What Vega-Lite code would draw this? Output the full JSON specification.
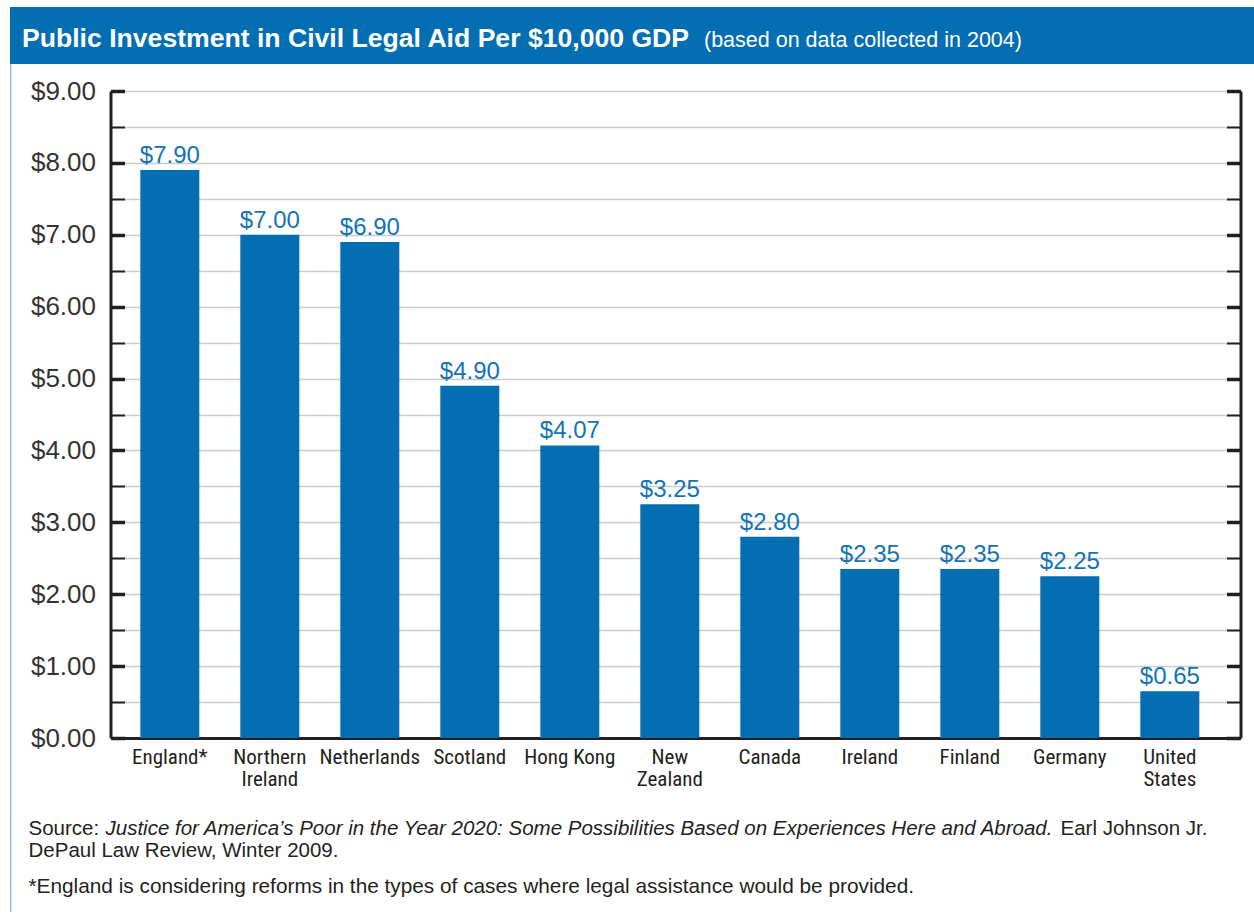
{
  "$schema": "https://vega.github.io/schema/vega-lite/v6.json",
  "background": "white",
  "padding": {"left": 10, "top": 7, "right": 0, "bottom": 0},
  "config": {"view": {"stroke": null}, "font": "Liberation Sans"},
  "spacing": 0,
  "vconcat": [
    {
      "spacing": -1,
      "hconcat": [
        {
          "width": 692,
          "height": 57,
          "data": {"values": [{"band": "header"}]},
          "mark": {"type": "rect", "color": "#036eb2"},
          "title": {"text": "Public Investment in Civil Legal Aid Per $10,000 GDP", "anchor": "start", "frame": "group", "orient": "top", "offset": -45.5, "dx": 12, "color": "#ffffff", "fontSize": 26.6, "fontWeight": "bold", "font": "Liberation Sans"}
        },
        {
          "width": 554,
          "height": 57,
          "data": {"values": [{"band": "header"}]},
          "mark": {"type": "rect", "color": "#036eb2"},
          "title": {"text": "(based on data collected in 2004)", "anchor": "start", "frame": "group", "orient": "top", "offset": -44, "dx": 2, "color": "#ffffff", "fontSize": 21.5, "fontWeight": "normal", "font": "Liberation Sans"}
        }
      ]
    },
    {
      "spacing": -13,
      "vconcat": [
        {
          "width": 1.5,
          "height": 27,
          "data": {"values": [{"frame": "left border"}]},
          "mark": {"type": "rect", "color": "#9ec4e4"}
        },
        {
          "spacing": 0,
          "vconcat": [
            {
              "spacing": 17.5,
              "hconcat": [
                {
                  "width": 1.5,
                  "height": 727,
                  "data": {"values": [{"frame": "left border"}]},
                  "mark": {"type": "rect", "color": "#9ec4e4"}
                },
                {
                  "width": 1130,
                  "height": 647,
                  "data": {
                    "values": [
                      {"country": "England*", "value": 7.90},
                      {"country": "Northern|Ireland", "value": 7.00},
                      {"country": "Netherlands", "value": 6.90},
                      {"country": "Scotland", "value": 4.90},
                      {"country": "Hong Kong", "value": 4.07},
                      {"country": "New|Zealand", "value": 3.25},
                      {"country": "Canada", "value": 2.80},
                      {"country": "Ireland", "value": 2.35},
                      {"country": "Finland", "value": 2.35},
                      {"country": "Germany", "value": 2.25},
                      {"country": "United|States", "value": 0.65}
                    ]
                  },
                  "layer": [
                    {
                      "mark": {"type": "bar", "color": "#036eb2"},
                      "encoding": {
                        "x": {
                          "field": "country", "type": "nominal", "sort": null,
                          "scale": {"paddingInner": 0.41, "paddingOuter": 0.355, "align": 0.42},
                          "axis": {"title": null, "labelAngle": 0, "labelExpr": "split(datum.label, '|')", "ticks": false, "domain": true, "domainColor": "#231f20", "domainWidth": 3, "labelFont": "Noto Sans Condensed, Roboto Condensed, Open Sans Condensed, DejaVu Sans Condensed, Liberation Sans Narrow, Liberation Sans", "labelFontSize": 21, "labelColor": "#231f20", "labelPadding": 8, "labelLineHeight": 22, "labelBaseline": "top"}
                        },
                        "y": {
                          "field": "value", "type": "quantitative",
                          "scale": {"domain": [0, 9], "nice": false},
                          "axis": {"title": null, "orient": "left", "values": [0, 0.5, 1, 1.5, 2, 2.5, 3, 3.5, 4, 4.5, 5, 5.5, 6, 6.5, 7, 7.5, 8, 8.5, 9], "labelExpr": "datum.value % 1 === 0 ? '$' + format(datum.value, '.2f') : ''", "labelFontSize": 26, "labelColor": "#333333", "labelPadding": 29, "labelOverlap": false, "tickSize": -14, "tickColor": "#231f20", "tickWidth": {"condition": {"test": "datum.value % 1 === 0", "value": 3.5}, "value": 2}, "domainColor": "#231f20", "domainWidth": 3, "grid": true, "gridColor": "#cccccc", "gridWidth": 1.5}
                        }
                      }
                    },
                    {
                      "mark": {"type": "text", "baseline": "alphabetic", "dy": -7, "fontSize": 24, "color": "#1373b9"},
                      "encoding": {
                        "x": {"field": "country", "type": "nominal", "sort": null},
                        "y": {
                          "field": "value", "type": "quantitative",
                          "scale": {"domain": [0, 9], "nice": false},
                          "axis": {"title": null, "orient": "right", "values": [0, 0.5, 1, 1.5, 2, 2.5, 3, 3.5, 4, 4.5, 5, 5.5, 6, 6.5, 7, 7.5, 8, 8.5, 9], "labels": false, "tickSize": -14, "tickColor": "#231f20", "tickWidth": {"condition": {"test": "datum.value % 1 === 0", "value": 3.5}, "value": 2}, "domainColor": "#231f20", "domainWidth": 3, "grid": false}
                        },
                        "text": {"field": "value", "type": "quantitative", "format": "$.2f"}
                      }
                    }
                  ],
                  "resolve": {"scale": {"y": "independent"}, "axis": {"y": "independent"}}
                }
              ]
            },
            {
              "spacing": 5,
              "hconcat": [
                {
                  "width": 1.5, "height": 22,
                  "data": {"values": [{"frame": "left border"}]},
                  "mark": {"type": "rect", "color": "#9ec4e4"}
                },
                {
                  "width": 23, "height": 22,
                  "data": {"values": [{"t": "Source:"}]},
                  "mark": {"type": "text", "align": "left", "baseline": "middle", "fontSize": 20.5, "color": "#231f20"},
                  "encoding": {"text": {"field": "t"}}
                },
                {
                  "width": 1, "height": 22,
                  "data": {"values": [{"t": "Justice for America’s Poor in the Year 2020: Some Possibilities Based on Experiences Here and Abroad."}]},
                  "mark": {"type": "text", "align": "left", "baseline": "middle", "fontSize": 20.5, "fontStyle": "italic", "color": "#231f20"},
                  "encoding": {"text": {"field": "t"}}
                },
                {
                  "width": 1, "height": 22,
                  "data": {"values": [{"t": "Earl Johnson Jr."}]},
                  "mark": {"type": "text", "align": "left", "baseline": "middle", "fontSize": 20.5, "color": "#231f20"},
                  "encoding": {"text": {"field": "t"}}
                }
              ]
            },
            {
              "spacing": 5,
              "hconcat": [
                {
                  "width": 1.5, "height": 22,
                  "data": {"values": [{"frame": "left border"}]},
                  "mark": {"type": "rect", "color": "#9ec4e4"}
                },
                {
                  "width": 23, "height": 22,
                  "data": {"values": [{"t": "DePaul Law Review, Winter 2009."}]},
                  "mark": {"type": "text", "align": "left", "baseline": "middle", "fontSize": 20.5, "color": "#231f20"},
                  "encoding": {"text": {"field": "t"}}
                }
              ]
            },
            {
              "spacing": 5,
              "hconcat": [
                {
                  "width": 1.5, "height": 50,
                  "data": {"values": [{"frame": "left border"}]},
                  "mark": {"type": "rect", "color": "#9ec4e4"}
                },
                {
                  "width": 23, "height": 50,
                  "data": {"values": [{"t": "*England is considering reforms in the types of cases where legal assistance would be provided."}]},
                  "mark": {"type": "text", "align": "left", "baseline": "middle", "fontSize": 20.8, "color": "#231f20"},
                  "encoding": {"text": {"field": "t"}}
                }
              ]
            }
          ]
        }
      ]
    }
  ]
}
